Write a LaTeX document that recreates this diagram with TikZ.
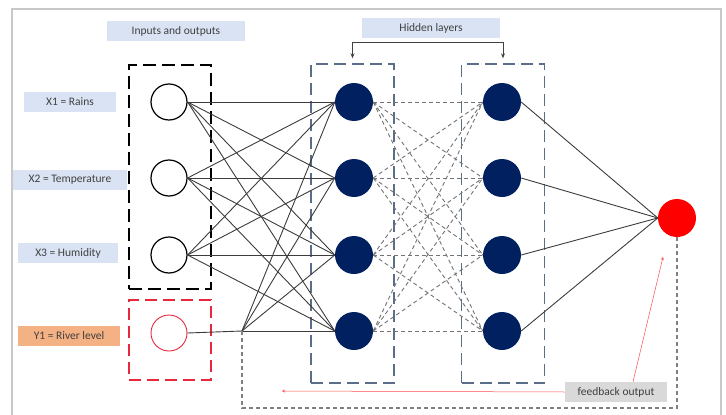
\documentclass[tikz,border=0pt]{standalone}
\usepackage{fontspec}
\setmainfont{Carlito}
\usetikzlibrary{arrows.meta}
\definecolor{lblblue}{RGB}{218,227,243}
\definecolor{lblorange}{RGB}{244,177,131}
\definecolor{fbgray}{RGB}{217,217,217}
\definecolor{navy}{RGB}{0,32,96}
\definecolor{txtgray}{RGB}{64,64,64}
\definecolor{hidbox}{RGB}{90,110,138}
\definecolor{outred}{RGB}{255,0,0}
\definecolor{boxred}{RGB}{230,40,60}
\definecolor{framegray}{RGB}{200,200,200}
\definecolor{lnk}{RGB}{60,60,60}
\begin{document}
\begin{tikzpicture}[x=1pt,y=-1pt,
  lbl/.style={fill=lblblue,text=txtgray,font=\fontsize{11.5}{13}\selectfont,minimum height=20,inner sep=0pt},
  inn/.style={circle,draw=black,line width=1.2pt,fill=white,minimum size=36,inner sep=0pt},
  hid/.style={circle,fill=navy,minimum size=38,inner sep=0pt},
  outn/.style={circle,fill=outred,minimum size=38,inner sep=0pt},
  inbox/.style={draw=black,line width=1.8pt,dash pattern=on 13pt off 6pt,minimum width=82,minimum height=224,inner sep=0pt},
  redbox/.style={draw=boxred,line width=1.6pt,dash pattern=on 12pt off 6pt,minimum width=82,minimum height=80,inner sep=0pt},
  hidbx/.style={draw=hidbox,line width=1.4pt,dash pattern=on 12pt off 6pt,minimum width=83,minimum height=319,inner sep=0pt},
  conn/.style={draw=lnk,line width=0.9pt},
  dconn/.style={draw=gray!90!black,line width=0.9pt,dash pattern=on 4pt off 3pt},
  fbloop/.style={draw=gray,line width=1.5pt,dash pattern=on 4pt off 3pt},
  redln/.style={draw=red!70,line width=0.5pt,-{Stealth[length=3pt,width=3pt]}},
  brk/.style={draw=txtgray,line width=0.8pt,-{Stealth[length=5pt,width=4pt]},shorten >=5pt}
]
\useasboundingbox (0,0) rectangle (726,415);
\draw[framegray,line width=1.5pt] (12,416) -- (12,9) -- (721,9) -- (721,416);

% labels
\node[lbl,minimum width=138] (io) at (176,31) {Inputs and outputs};
\node[lbl,minimum width=138] (hl) at (431,28) {Hidden layers};
\node[lbl,minimum width=92] (x1) at (70,102) {X1 = Rains};
\node[lbl,minimum width=114] (x2) at (70,180) {X2 = Temperature};
\node[lbl,minimum width=100] (x3) at (68,253) {X3 = Humidity};
\node[lbl,fill=lblorange,minimum width=102] (y1) at (69,336) {Y1 = River level};
\node[lbl,fill=fbgray,minimum width=102] (fb) at (616,392) {feedback output};

% boxes
\node[inbox] (ib) at (170,177) {};
\node[redbox] (rb) at (170,340) {};
\node[hidbx] (hb1) at (352.5,223.5) {};
\node[hidbx] (hb2) at (503,223.5) {};

% bracket
\draw[brk] (hl.south -| hb1.north) ++(0,4) coordinate (bl) -- (hb1.north) ;
\draw[brk] (hl.south -| hb2.north) ++(0,4) coordinate (br) -- (hb2.north);
\draw[txtgray,line width=0.8pt] (bl) -- (br);

% nodes
\foreach \i/\y in {1/102,2/178,3/255}{
  \node[inn] (i\i) at (169,\y) {};
}
\node[inn,draw=boxred,line width=0.9pt] (iy) at (169,333) {};
\coordinate (j) at (242,331);
\foreach \i/\y in {1/102,2/178,3/255,4/331}{
  \node[hid] (a\i) at (354,\y) {};
  \node[hid] (b\i) at (502,\y) {};
}
\node[outn] (o) at (677,218) {};

% connections
\foreach \i in {1,2,3}{
  \foreach \k in {1,2,3,4}{
    \draw[conn] (i\i.east) -- (a\k.west);
  }
}
\draw[conn] (iy.east) -- (j);
\foreach \k in {1,2,3,4}{
  \draw[conn] (j) -- (a\k.west);
  \draw[conn] (b\k.east) -- (o.west);
  \foreach \m in {1,2,3,4}{
    \draw[dconn] (a\k.east) -- (b\m.west);
  }
}

% feedback loop
\coordinate (fl) at (242,408);
\coordinate (fr) at (677,408);
\draw[fbloop] (j) -- (fl) -- (fr) -- (o.south);
\coordinate (fbend) at (282,391);
\coordinate (fbtip) at (663,257);
\draw[redln] (fb.west) -- (fbend);
\draw[redln] ([xshift=17]fb.north) -- (fbtip);
\end{tikzpicture}
\end{document}
